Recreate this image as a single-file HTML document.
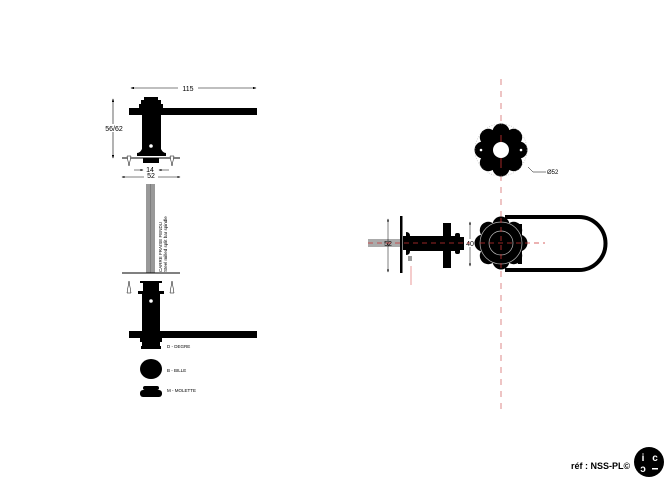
<!DOCTYPE html>
<html><head><meta charset="utf-8"><style>
html,body{margin:0;padding:0;background:#fff;width:670px;height:491px;overflow:hidden}
svg{display:block;font-family:"Liberation Sans",sans-serif}
</style></head><body>
<svg width="670" height="491" viewBox="0 0 670 491" xmlns="http://www.w3.org/2000/svg">
<defs>
<marker id="a" markerWidth="6" markerHeight="4" refX="5" refY="2" orient="auto"><path d="M0,0 L6,2 L0,4z" fill="#000"/></marker>
<marker id="b" markerWidth="6" markerHeight="4" refX="1" refY="2" orient="auto"><path d="M6,0 L0,2 L6,4z" fill="#000"/></marker>
<g id="fl">
<circle r="20"/>
<circle cx="18" cy="0" r="8.5"/><circle cx="-18" cy="0" r="8.5"/><circle cx="0" cy="18" r="8.5"/><circle cx="0" cy="-18" r="8.5"/>
<circle cx="12.7" cy="12.7" r="8.5"/><circle cx="-12.7" cy="12.7" r="8.5"/><circle cx="12.7" cy="-12.7" r="8.5"/><circle cx="-12.7" cy="-12.7" r="8.5"/>
</g>
</defs>
<!-- left top -->
<line x1="131" y1="88" x2="256" y2="88" stroke="#000" stroke-width="0.6" marker-start="url(#b)" marker-end="url(#a)"/>
<rect x="178" y="84" width="20" height="8" fill="#fff"/>
<text x="188" y="91" font-size="7" text-anchor="middle">115</text>
<line x1="113" y1="99" x2="113" y2="158" stroke="#000" stroke-width="0.6" marker-start="url(#b)" marker-end="url(#a)"/>
<rect x="104" y="124" width="20" height="8" fill="#fff"/>
<text x="114" y="131" font-size="7" text-anchor="middle">56/62</text>
<rect x="144" y="97" width="14" height="3" fill="#000"/>
<rect x="141" y="100" width="20" height="4" fill="#000"/>
<rect x="139" y="104" width="24" height="4" fill="#000"/>
<rect x="129" y="108" width="128" height="7" fill="#000"/>
<rect x="142" y="115" width="19" height="37" fill="#000"/>
<path d="M142,149 Q140,153 137,153 L137,156 L166,156 L166,153 Q163,153 161,149z" fill="#000"/>
<circle cx="151" cy="146" r="1.8" fill="#fff"/>
<line x1="122" y1="158" x2="180" y2="158" stroke="#000" stroke-width="1"/>
<rect x="143" y="158" width="16" height="5" fill="#000"/>
<path d="M127,156 h4 l-2,10z M170,156 h4 l-2,10z" fill="#fff" stroke="#000" stroke-width="0.5"/>
<line x1="134" y1="170" x2="143" y2="170" stroke="#000" stroke-width="0.5" marker-end="url(#a)"/>
<line x1="169" y1="170" x2="159" y2="170" stroke="#000" stroke-width="0.5" marker-end="url(#a)"/>
<text x="150" y="172" font-size="7" text-anchor="middle">14</text>
<line x1="122" y1="177" x2="180" y2="177" stroke="#000" stroke-width="0.5" marker-start="url(#b)" marker-end="url(#a)"/>
<rect x="144" y="172" width="14" height="6" fill="#fff"/>
<text x="151" y="178" font-size="7" text-anchor="middle">52</text>
<rect x="146" y="184" width="9" height="89" fill="#999"/>
<line x1="150.5" y1="184" x2="150.5" y2="273" stroke="#777" stroke-width="0.8"/>
<text transform="translate(162,272) rotate(-90)" font-size="4.5">CARRE FRAISE FENDU</text>
<text transform="translate(167,272) rotate(-90)" font-size="4.5">Steel milled split bar spindle</text>
<line x1="122" y1="273" x2="180" y2="273" stroke="#000" stroke-width="1"/>
<path d="M127,293 h4 l-2,-12z M170,293 h4 l-2,-12z" fill="#fff" stroke="#000" stroke-width="0.5"/>
<rect x="140" y="281" width="22" height="2" fill="#000"/>
<rect x="143" y="283" width="16" height="8" fill="#000"/>
<rect x="138" y="291" width="26" height="3" fill="#000"/>
<rect x="142" y="294" width="18" height="37" fill="#000"/>
<circle cx="151" cy="301" r="1.8" fill="#fff"/>
<rect x="129" y="331" width="128" height="7" fill="#000"/>
<rect x="140" y="338" width="22" height="4" fill="#000"/>
<rect x="142" y="342" width="18" height="4" fill="#000"/>
<rect x="141" y="346" width="20" height="3" fill="#000"/>
<text x="167" y="348" font-size="4.5">D - DEGRE</text>
<ellipse cx="151" cy="369" rx="11" ry="10" fill="#000"/>
<text x="167" y="372" font-size="4.5">B - BILLE</text>
<rect x="143" y="386" width="16" height="4" rx="2" fill="#000"/>
<rect x="140" y="390" width="22" height="7" rx="3" fill="#000"/>
<text x="167" y="392" font-size="4.5">M - MOLETTE</text>
<!-- right -->
<line x1="501" y1="79" x2="501" y2="412" stroke="#d88" stroke-width="1" stroke-dasharray="6,6"/>
<g transform="translate(501,150)" fill="#000"><use href="#fl"/></g>
<circle cx="501" cy="150" r="26" fill="none" stroke="#999" stroke-width="0.5" stroke-dasharray="1,1.5"/>
<circle cx="501" cy="150" r="8" fill="#fff"/>
<circle cx="481" cy="150" r="1.3" fill="#fff"/><circle cx="521" cy="150" r="1.3" fill="#fff"/>
<line x1="501" y1="135" x2="501" y2="142" stroke="#c33" stroke-width="0.8"/>
<line x1="501" y1="158" x2="501" y2="168" stroke="#c33" stroke-width="0.8"/>
<path d="M528,167 L533,172 L546,172" fill="none" stroke="#000" stroke-width="0.5"/>
<text x="547" y="174" font-size="6">Ø52</text>
<!-- side view -->
<rect x="368" y="239" width="32" height="8" fill="#aaa"/>
<text x="388" y="246" font-size="7" text-anchor="middle">52</text>
<line x1="388" y1="219" x2="388" y2="272" stroke="#000" stroke-width="0.5" marker-start="url(#b)" marker-end="url(#a)"/>
<rect x="400" y="216" width="2.5" height="57" fill="#000"/>
<rect x="403" y="236" width="4" height="14" fill="#000"/>
<path d="M406,232 Q410,232 410,236 L443,236 L443,251 L410,251 Q410,255 406,255z" fill="#000"/>
<rect x="443" y="223" width="8" height="45" fill="#000"/>
<rect x="451" y="236" width="4" height="15" fill="#000"/>
<rect x="455" y="233" width="5" height="21" rx="2" fill="#000"/>
<rect x="460" y="237" width="4" height="13" fill="#000"/>
<line x1="470" y1="222" x2="470" y2="266" stroke="#000" stroke-width="0.5" marker-start="url(#b)" marker-end="url(#a)"/>
<rect x="465" y="239" width="10" height="8" fill="#fff"/>
<text x="470" y="246" font-size="7" text-anchor="middle">40</text>
<rect x="408" y="256" width="4" height="5" fill="#999"/>
<line x1="411" y1="266" x2="411" y2="285" stroke="#d55" stroke-width="0.6"/>
<line x1="368" y1="243" x2="470" y2="243" stroke="#c33" stroke-width="0.8" stroke-dasharray="5,4"/>
<!-- front view lever -->
<path d="M505,217 L579,217 A26.5,26.5 0 0 1 579,270 L505,270" fill="none" stroke="#000" stroke-width="4"/>
<g transform="translate(501,243)" fill="#000"><use href="#fl"/></g>
<rect x="518" y="224" width="4" height="40" fill="#000"/>
<circle cx="501" cy="243" r="21" fill="none" stroke="#bbb" stroke-width="0.7"/>
<circle cx="501" cy="243" r="12" fill="none" stroke="#bbb" stroke-width="0.7"/>
<line x1="480" y1="243" x2="545" y2="243" stroke="#c33" stroke-width="0.8" stroke-dasharray="5,4"/>
<line x1="501" y1="218" x2="501" y2="270" stroke="#c33" stroke-width="0.8" stroke-dasharray="5,4"/>
<!-- footer -->
<text x="571" y="469" font-size="9" font-weight="bold">réf : NSS-PL©</text>
<circle cx="649" cy="462" r="15" fill="#000"/>
<text x="643" y="461" font-size="10" fill="#fff" font-weight="bold" text-anchor="middle">i</text>
<text x="655" y="461" font-size="10" fill="#fff" font-weight="bold" text-anchor="middle">c</text>
<text x="643" y="472" font-size="10" fill="#fff" font-weight="bold" text-anchor="middle">ɔ</text>
<rect x="652" y="468" width="6" height="1.5" fill="#fff"/>
</svg>
</body></html>
